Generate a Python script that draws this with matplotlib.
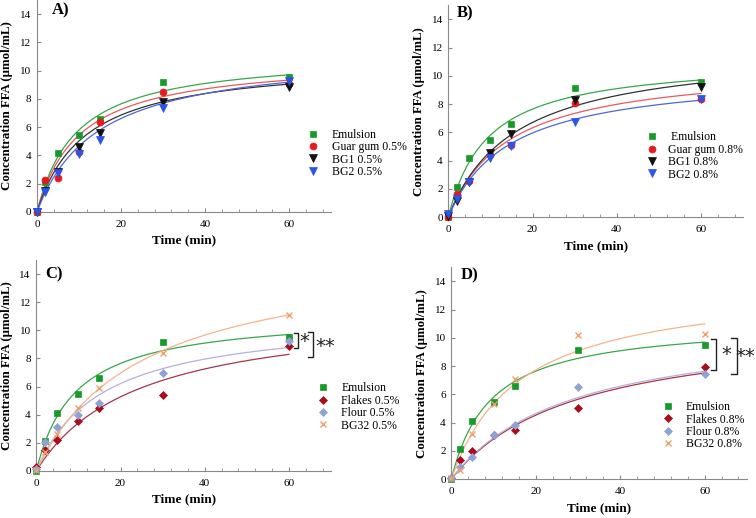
import matplotlib
matplotlib.use("Agg")

import matplotlib.pyplot as plt
import numpy as np

plt.rcParams["font.family"] = ["Liberation Serif", "DejaVu Serif"]

# -- Data --------------------------------------------------------------------
time = [0, 2, 5, 10, 15, 30, 60]

emulsion = [0.0, 2.10, 4.15, 5.47, 6.60, 9.17, 9.53]

# Panel A (0.5%)
guar_05 = [0.0, 2.26, 2.43, 4.22, 6.39, 8.47, 9.06]
bg1_05 = [0.0, 1.46, 2.85, 4.62, 5.61, 7.78, 8.82]
bg2_05 = [0.0, 1.42, 2.74, 4.10, 5.12, 7.38, 9.25]

# Panel B (0.8%)
guar_08 = [0.0, 1.62, 2.52, 4.38, 5.08, 8.05, 8.33]
bg1_08 = [0.1, 1.15, 2.47, 4.52, 5.90, 8.28, 9.22]
bg2_08 = [0.2, 1.27, 2.45, 4.19, 5.06, 6.73, 8.33]

# Panel C (0.5%)
flakes_05 = [0.25, 1.45, 2.20, 3.52, 4.49, 5.39, 8.86]
flour_05 = [0.10, 2.07, 3.09, 3.94, 4.80, 6.96, 9.22]
bg32_05 = [0.05, 1.33, 2.64, 4.47, 5.91, 8.41, 11.07]

# Panel D (0.8%)
flakes_08 = [0.10, 1.34, 1.96, 3.10, 3.49, 5.02, 7.92]
flour_08 = [0.05, 0.87, 1.56, 3.11, 3.84, 6.49, 7.41]
bg32_08 = [0.05, 0.66, 3.23, 5.35, 7.12, 10.19, 10.28]

# Fitted curves y = a*t/(b+t), parameters estimated from the drawn lines
fit_emulsion = (11.21, 9.32)
fit_A = [(10.89, 10.04), (10.77, 11.43), (11.41, 14.5)]
fit_B = [(10.83, 14.27), (12.0, 15.82), (10.27, 14.5)]
fit_C = [(11.63, 24.15), (11.05, 15.57), (15.78, 25.35)]
fit_D = [(11.20, 29.4), (11.27, 28.5), (13.94, 16.05)]

# -- Styles ------------------------------------------------------------------
GREEN = ("#179a2a", "#3aa64a")
RED = ("#e8191e", "#e85a5c")
BLACK = ("#111111", "#333333")
BLUE = ("#2a55e8", "#4a68d8")
FLAKES = ("#a80c1e", "#a8354a")
FLOUR = ("#8fa2d6", "#b6b0dc")
BG32 = ("#f2a06a", "#f4b48a")

LEG_FS = 8.5
t_fit = np.linspace(0, 60, 200)


def fit_curve(params):
    a, b = params
    return a * t_fit / (b + t_fit)


def style_axes(ax, letter, lx, ly):
    ax.set_xlim(0, 70)
    ax.set_ylim(0, 15)
    ax.set_xticks([0, 20, 40, 60])
    ax.set_xticks(np.arange(0, 71, 4), minor=True)
    ax.set_yticks(np.arange(0, 15, 2))
    for side in ["top", "right"]:
        ax.spines[side].set_visible(False)
    for side in ["left", "bottom"]:
        ax.spines[side].set_color("#8a8a8a")
        ax.spines[side].set_linewidth(0.8)
    ax.tick_params(axis="both", which="major", labelsize=8, direction="in",
                   length=3, color="#8a8a8a")
    ax.tick_params(axis="x", which="major", pad=6)
    ax.tick_params(axis="y", which="major", pad=4)
    ax.tick_params(axis="both", which="minor", direction="in", length=2,
                   color="#8a8a8a")
    ax.tick_params(axis="y", which="minor", left=False)
    ax.set_xlabel("Time (min)", fontsize=9.5, fontweight="bold", labelpad=4)
    ax.set_ylabel("Concentration FFA (\u00b5mol/mL)", fontsize=9.3,
                  fontweight="bold", labelpad=5)
    ax.text(lx, ly, letter, transform=ax.transAxes, fontsize=12,
            fontweight="bold", ha="left", va="center")


def draw_panel(ax, series, fits, colors, markers, labels, sizes):
    ax.plot(t_fit, fit_curve(fit_emulsion), color=GREEN[1], lw=0.9, zorder=2)
    for params, col in zip(fits, colors[1:]):
        ax.plot(t_fit, fit_curve(params), color=col[1], lw=0.9, zorder=2)
    all_series = [emulsion] + series
    for ys, col, m, lab, s in zip(all_series, [GREEN] + colors[1:], markers,
                                  labels, sizes):
        ax.plot(time, ys, linestyle="none", marker=m, color=col[0],
                markersize=s, markeredgewidth=1.0 if m == "x" else 0.5,
                label=lab, zorder=3, clip_on=False)


def add_legend(ax, x, y, textpad):
    ax.legend(loc="center left", bbox_to_anchor=(x, y), frameon=False,
              fontsize=LEG_FS, handlelength=0.8, handletextpad=textpad,
              labelspacing=0.03, borderaxespad=0, borderpad=0)


def bracket(ax, x0, x1, y_top, y_bot, text, tx, ty):
    ax.plot([x0, x1, x1, x0], [y_top, y_top, y_bot, y_bot], color="#222222",
            lw=1.0, clip_on=False)
    ax.text(tx, ty, text, fontsize=14, ha="center", va="center",
            color="#222222", family="DejaVu Sans")


fig = plt.figure(figsize=(7.56, 5.18), dpi=100)

axA = fig.add_axes([0.049, 0.591, 0.389, 0.409])
axB = fig.add_axes([0.593, 0.581, 0.390, 0.409])
axC = fig.add_axes([0.048, 0.091, 0.390, 0.407])
axD = fig.add_axes([0.597, 0.075, 0.391, 0.409])

# -- Panel A ------------------------------------------------------------------
draw_panel(axA, [guar_05, bg1_05, bg2_05], fit_A,
           [GREEN, RED, BLACK, BLUE], ["s", "o", "v", "v"],
           ["Emulsion", "Guar gum 0.5%", "BG1 0.5%", "BG2 0.5%"],
           [5, 5, 5.5, 5.5])
style_axes(axA, "A)", 0.05, 0.95)
add_legend(axA, 0.923, 0.276, 1.2)

# -- Panel B ------------------------------------------------------------------
draw_panel(axB, [guar_08, bg1_08, bg2_08], fit_B,
           [GREEN, RED, BLACK, BLUE], ["s", "o", "v", "v"],
           [" Emulsion", "Guar gum 0.8%", "BG1 0.8%", "BG2 0.8%"],
           [5, 5, 5.5, 5.5])
style_axes(axB, "B)", 0.03, 0.96)
add_legend(axB, 0.676, 0.288, 0.96)

# -- Panel C ------------------------------------------------------------------
draw_panel(axC, [flakes_05, flour_05, bg32_05], fit_C,
           [GREEN, FLAKES, FLOUR, BG32], ["s", "D", "D", "x"],
           ["Emulsion", "Flakes 0.5%", "Flour 0.5%", "BG32 0.5%"],
           [5, 4.5, 4.5, 5])
style_axes(axC, "C)", 0.03, 0.93)
add_legend(axC, 0.957, 0.303, 1.13)
bracket(axC, 61.1, 62.1, 9.83, 8.72, "*", 63.6, 9.2)
bracket(axC, 64.5, 65.7, 9.85, 8.12, "**", 68.5, 8.85)

# -- Panel D ------------------------------------------------------------------
draw_panel(axD, [flakes_08, flour_08, bg32_08], fit_D,
           [GREEN, FLAKES, FLOUR, BG32], ["s", "D", "D", "x"],
           ["Emulsion", "Flakes 0.8%", "Flour 0.8%", "BG32 0.8%"],
           [5, 4.5, 4.5, 5])
style_axes(axD, "D)", 0.03, 0.96)
add_legend(axD, 0.717, 0.252, 1.13)
bracket(axD, 61.5, 62.6, 9.9, 7.7, "*", 65.0, 8.8)
bracket(axD, 66.2, 67.6, 10.02, 7.47, "**", 69.6, 8.7)

fig.savefig("out.png", dpi=100)
plt.close(fig)
